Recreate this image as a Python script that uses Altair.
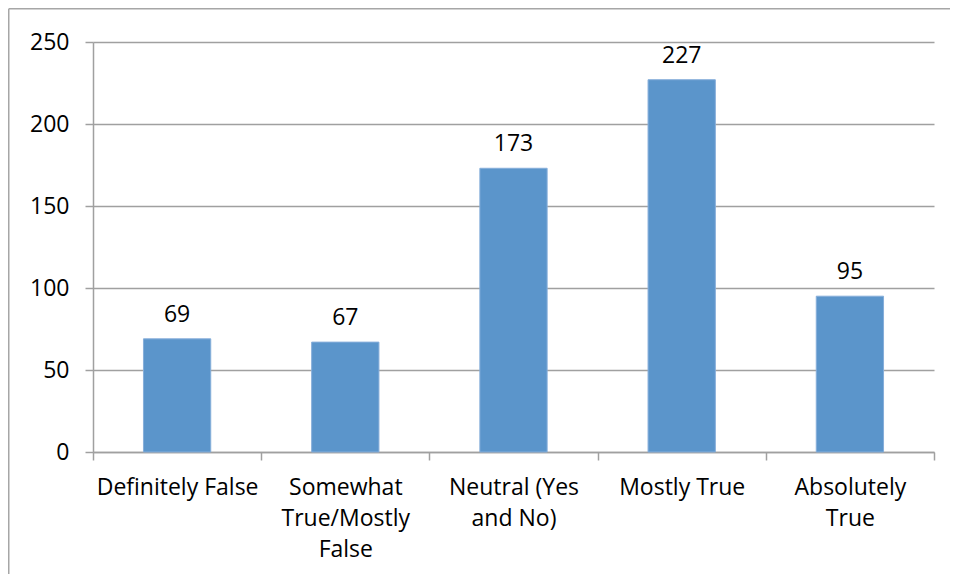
import json
import altair as alt
import pandas as pd

# ---- data ----
categories = [
    "Definitely False",
    "Somewhat True/Mostly False",
    "Neutral (Yes and No)",
    "Mostly True",
    "Absolutely True",
]
counts = [69, 67, 173, 227, 95]
tick_lines = [
    ["Definitely False"],
    ["Somewhat", "True/Mostly", "False"],
    ["Neutral (Yes", "and No)"],
    ["Mostly True"],
    ["Absolutely", "True"],
]
y_ticks = [0, 50, 100, 150, 200, 250]

df = pd.DataFrame({"category": categories, "count": counts})

label_expr = f"{json.dumps(tick_lines)}[indexof({json.dumps(categories)}, datum.value)]"

FONT = "Open Sans"
GRAY = "#A0A0A0"
BLUE = "#5B95CB"

x = alt.X(
    "category:N",
    sort=categories,
    scale=alt.Scale(paddingInner=0, paddingOuter=0),
    axis=alt.Axis(
        title=None,
        labelAngle=0,
        labelExpr=label_expr,
        tickBand="extent",
        ticks=True,
        tickSize=8,
        tickColor=GRAY,
        tickWidth=1.5,
        domainColor=GRAY,
        domainWidth=1.5,
        labelPadding=16,
        labelFont=FONT,
        labelFontSize=23,
        labelColor="black",
        labelLineHeight=31,
        labelLimit=0,
        labelOverlap=False,
        grid=False,
    ),
)
y = alt.Y(
    "count:Q",
    scale=alt.Scale(domain=[0, 250], nice=False),
    axis=alt.Axis(
        title=None,
        values=y_ticks,
        format="d",
        tickSize=8,
        tickColor=GRAY,
        tickWidth=1.5,
        domainColor=GRAY,
        domainWidth=1.5,
        grid=True,
        gridColor=GRAY,
        gridWidth=1.5,
        labelPadding=16,
        labelFont=FONT,
        labelFontSize=23,
        labelColor="black",
    ),
)

base = alt.Chart(df).encode(x=x, y=y)

bars = base.mark_bar(
    color=BLUE,
    width=alt.RelativeBandSize(0.4),
    stroke="#86AEDA",
    strokeWidth=1,
)

text = base.mark_text(
    dy=-17,
    baseline="alphabetic",
    font=FONT,
    fontSize=23,
    color="black",
).encode(text="count:Q")

# outer chart frame (decoration): only top and left edges are inside the window
frame_df = pd.DataFrame({"f": [0]})
frame_top = alt.Chart(frame_df).mark_rule(color="#A6A6A6", strokeWidth=1.5).encode(
    x=alt.value(-84.25), x2=alt.value(1000), y=alt.value(-33.25)
)
frame_left = alt.Chart(frame_df).mark_rule(color="#A6A6A6", strokeWidth=1.5).encode(
    x=alt.value(-84.25), y=alt.value(-33.25), y2=alt.value(700)
)

chart = (
    alt.layer(frame_top, frame_left, bars, text)
    .properties(
        width=841,
        height=410,
        autosize=alt.AutoSizeParams(type="none"),
        padding={"left": 85, "top": 34, "right": 16, "bottom": 122},
    )
    .configure_view(strokeWidth=0)
)

chart.save("out.html", embed_options={"renderer": "svg", "actions": False})
